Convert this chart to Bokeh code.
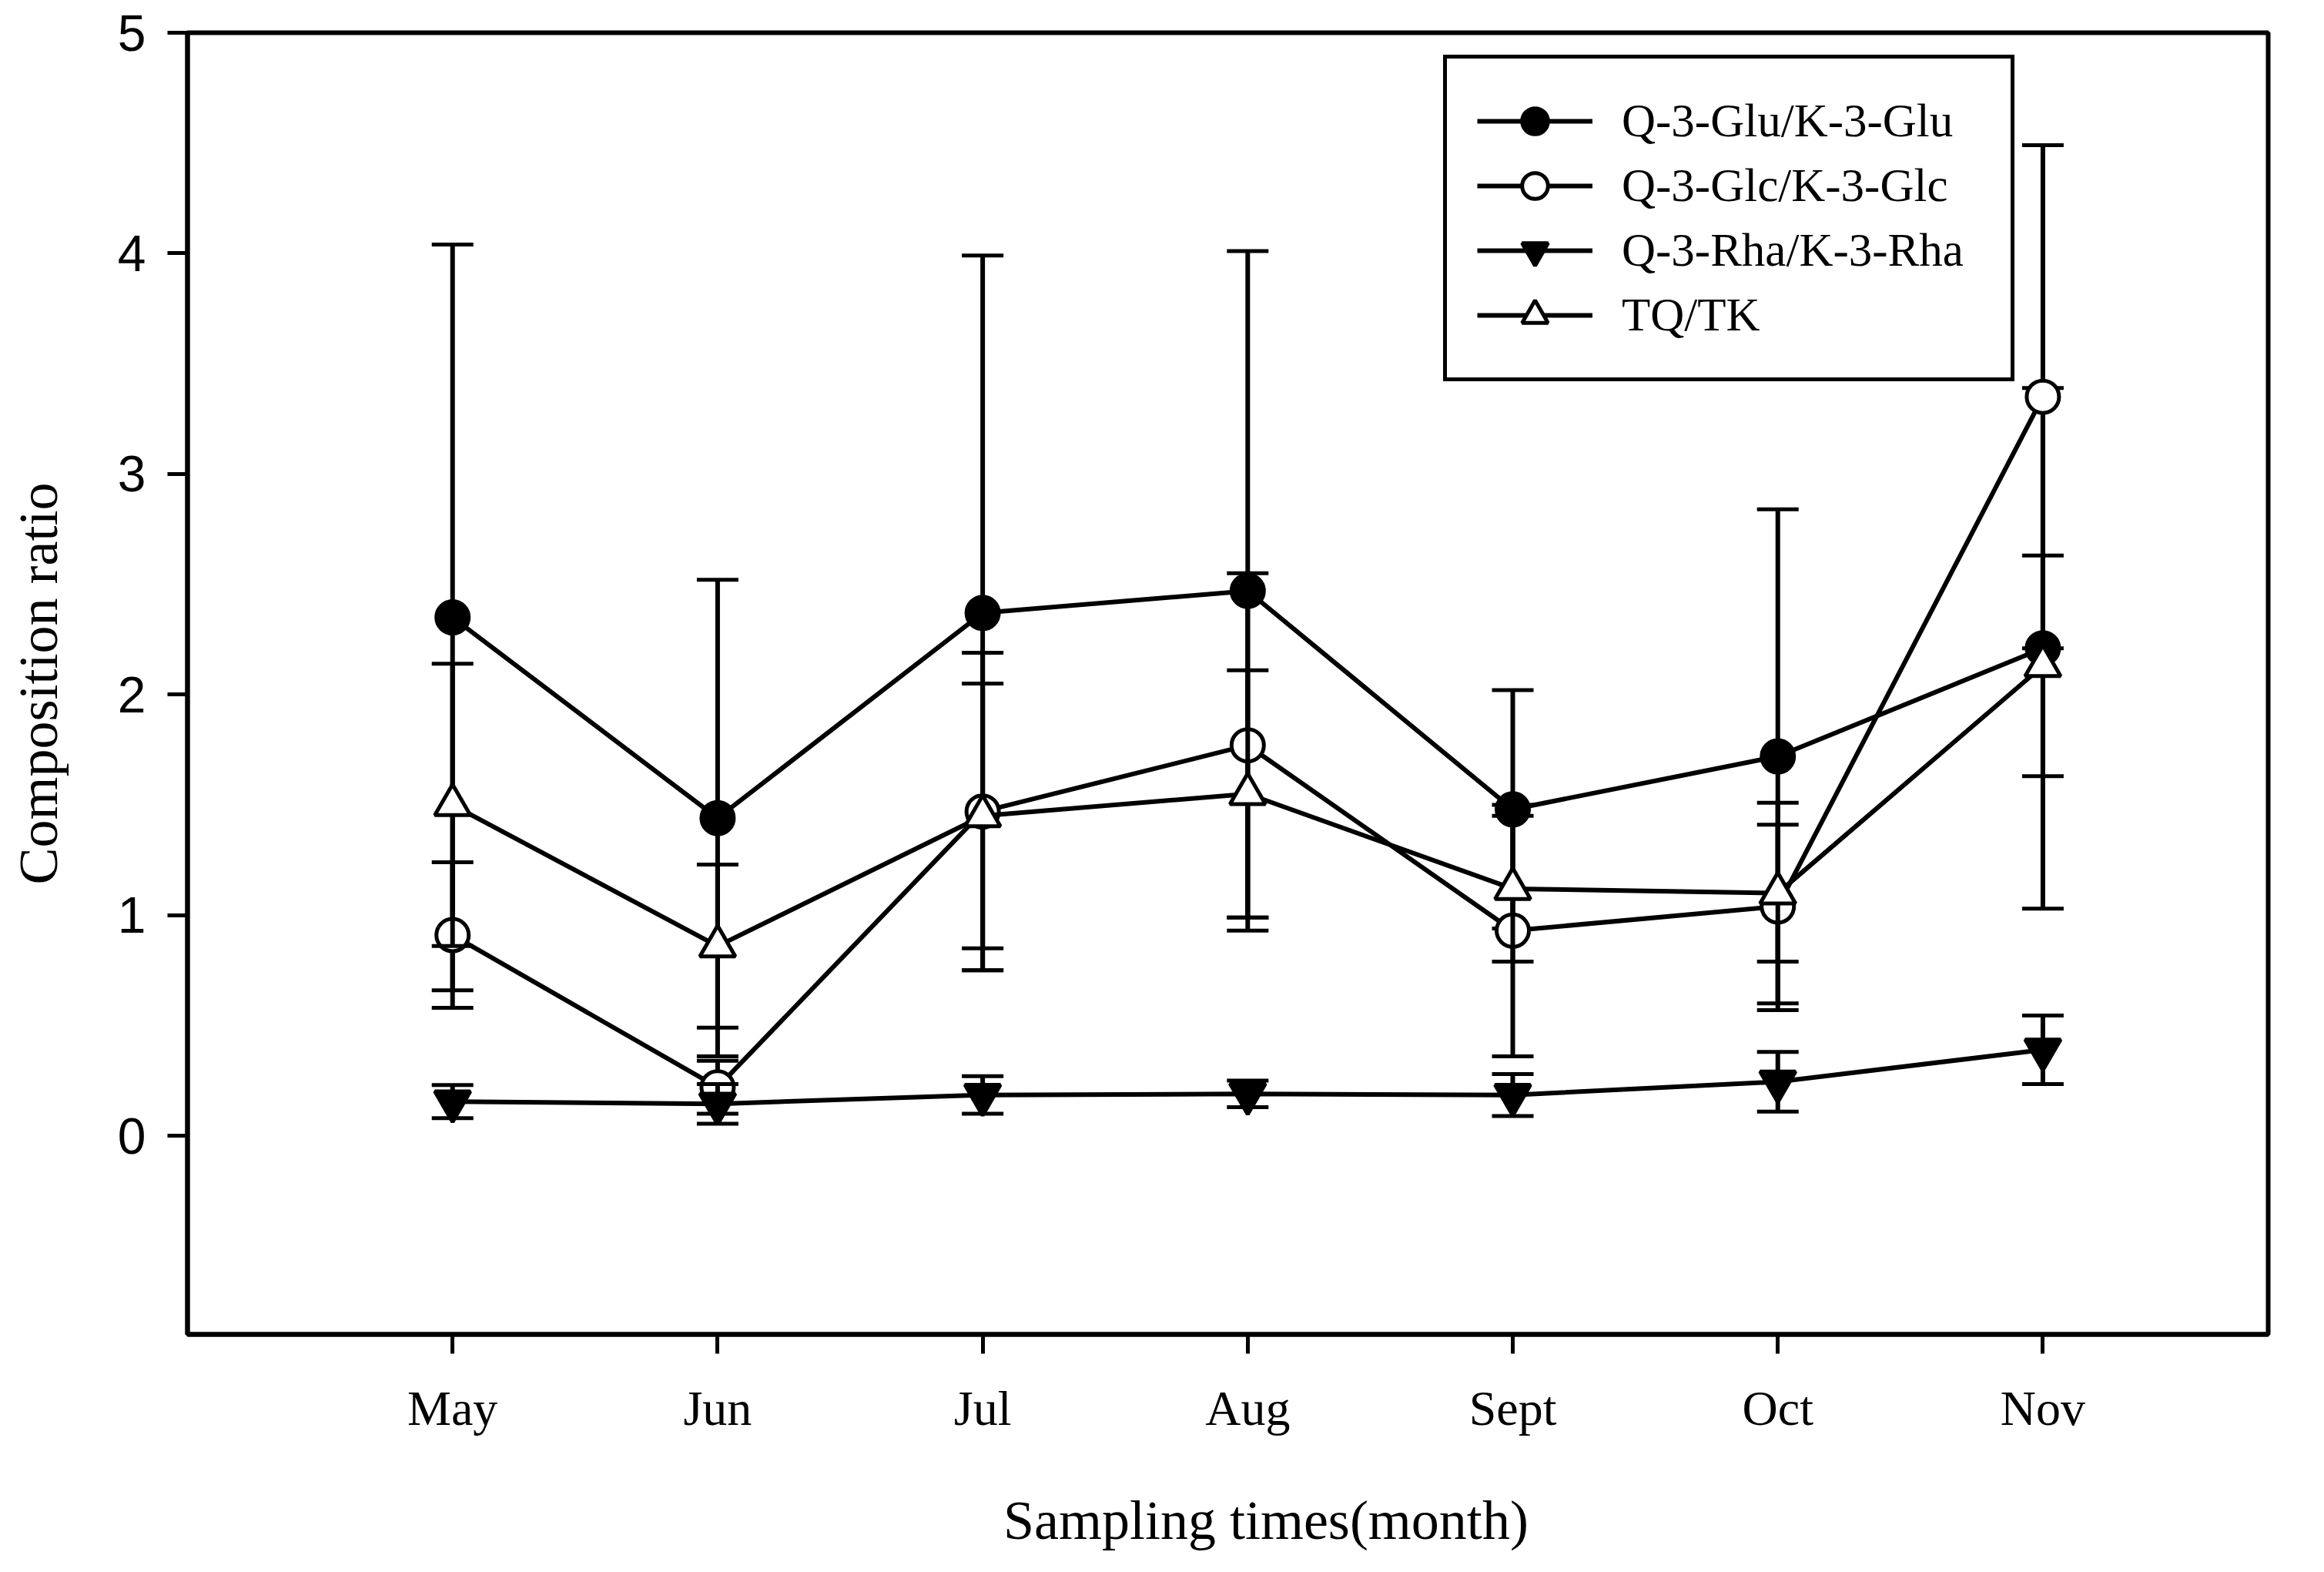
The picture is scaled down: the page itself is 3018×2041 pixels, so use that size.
from bokeh.plotting import figure
from bokeh.layouts import column
from bokeh.models import (Range1d, FixedTicker, Legend, LegendItem)
from bokeh.core.properties import value
from bokeh.embed import file_html
from bokeh.resources import INLINE

# ---------------- data ----------------
months = ["May", "Jun", "Jul", "Aug", "Sept", "Oct", "Nov"]
month_pos = [1, 2, 3, 4, 5, 6, 7]

glu_mean = [2.35, 1.44, 2.37, 2.47, 1.48, 1.72, 2.21]
glu_err = [1.69, 1.08, 1.62, 1.54, 0.54, 1.12, 1.18]

glc_mean = [0.91, 0.22, 1.47, 1.77, 0.93, 1.04, 3.35]
glc_err = [0.33, 0.12, 0.72, 0.78, 0.57, 0.47, 1.14]

rha_mean = [0.155, 0.145, 0.185, 0.19, 0.185, 0.245, 0.39]
rha_err = [0.075, 0.09, 0.085, 0.06, 0.095, 0.135, 0.155]

tq_mean = [1.50, 0.86, 1.45, 1.55, 1.12, 1.10, 2.13]
tq_err = [0.64, 0.37, 0.60, 0.56, 0.33, 0.31, 0.50]

series_labels = ["Q-3-Glu/K-3-Glu", "Q-3-Glc/K-3-Glc", "Q-3-Rha/K-3-Rha", "TQ/TK"]
y_ticks = [0, 1, 2, 3, 4, 5]
x_title = "Sampling times(month)"
y_title = "Composition ratio"

# ---------------- layout ----------------
W = 3010
BL, BT, BR, BB = 243, 42, 65, 150
FW, FH = 2702, 1690
H1 = BT + FH + BB          # main chart
H2 = 151                   # strip holding the x-axis title
X0, X1 = 0, 7.85
Y0, Y1 = -0.9, 5

SERIF = "Liberation Serif"
SANS = "Liberation Sans"

p = figure(width=W, height=H1, output_backend="svg", toolbar_location=None,
           x_range=Range1d(X0, X1), y_range=Range1d(Y0, Y1))
p.min_border_left = BL
p.min_border_top = BT
p.min_border_right = BR
p.min_border_bottom = BB
p.background_fill_color = "white"
p.border_fill_color = "white"
p.grid.visible = False
p.outline_line_color = "black"
p.outline_line_width = 6

# axes
p.xaxis.ticker = FixedTicker(ticks=month_pos)
p.xaxis.major_label_overrides = {i: m for i, m in zip(month_pos, months)}
p.yaxis.ticker = FixedTicker(ticks=y_ticks)
for ax in (p.xaxis[0], p.yaxis[0]):
    ax.axis_line_width = 6
    ax.axis_line_color = "black"
    ax.major_tick_line_width = 5
    ax.major_tick_line_color = "black"
    ax.major_tick_in = 0
    ax.minor_tick_line_color = None
    ax.major_label_text_color = "black"

p.xaxis.major_tick_out = 25
p.xaxis.major_label_text_font = SERIF
p.xaxis.major_label_text_font_size = "64px"
p.xaxis.major_label_standoff = 35

p.yaxis.major_tick_out = 26
p.yaxis.major_label_text_font = SANS
p.yaxis.major_label_text_font_size = "66px"
p.yaxis.major_label_standoff = 28
p.yaxis.axis_label = y_title
p.yaxis.axis_label_text_font = SERIF
p.yaxis.axis_label_text_font_style = "normal"
p.yaxis.axis_label_text_font_size = "72px"
p.yaxis.axis_label_text_color = "black"
p.yaxis.axis_label_standoff = 60

# ---------------- series ----------------
styles = [
    dict(marker="circle", size=42, fill_color="black"),
    dict(marker="circle", size=42, fill_color="white"),
    dict(marker="inverted_triangle", size=46, fill_color="black"),
    dict(marker="triangle", size=46, fill_color="white"),
]
means = [glu_mean, glc_mean, rha_mean, tq_mean]
errs = [glu_err, glc_err, rha_err, tq_err]

items = []
for lab, m, e, st in zip(series_labels, means, errs, styles):
    lo = [a - b for a, b in zip(m, e)]
    hi = [a + b for a, b in zip(m, e)]
    # error bars: stems and caps
    p.segment(x0=month_pos, y0=lo, x1=month_pos, y1=hi, line_color="black", line_width=6)
    p.scatter(x=month_pos + month_pos, y=lo + hi, marker="dash", size=54,
              line_color="black", line_width=5)
    lr = p.line(month_pos, m, line_color="black", line_width=6)
    sr = p.scatter(month_pos, m, marker=st["marker"], size=st["size"],
                   fill_color=st["fill_color"], line_color="black", line_width=5)
    items.append(LegendItem(label=lab, renderers=[lr, sr]))

legend = Legend(items=items, location=(1631, 1237), margin=0,
                padding=39, spacing=0, glyph_width=150, glyph_height=84,
                label_height=84, label_width=466, label_standoff=38,
                label_text_font=SERIF, label_text_font_size="61px",
                label_text_color="black",
                border_line_color="black", border_line_width=5, border_line_alpha=1,
                background_fill_color="white", background_fill_alpha=1)
p.add_layout(legend, "center")

# ---------------- x-axis title strip ----------------
t = figure(width=W, height=H2, output_backend="svg", toolbar_location=None,
           x_range=Range1d(0, W), y_range=Range1d(0, H2),
           x_axis_location=None, y_axis_location=None)
t.min_border = 0
t.min_border_left = t.min_border_right = t.min_border_top = t.min_border_bottom = 0
t.outline_line_color = None
t.grid.visible = False
t.background_fill_color = "white"
t.border_fill_color = "white"
t.text(x=[1560], y=[60], text=[x_title], text_align="center",
       text_baseline="alphabetic", text_font=value(SERIF),
       text_font_size="72px", text_color="black")

layout = column(p, t, spacing=0)
open("out.html", "w").write(file_html(layout, INLINE))
